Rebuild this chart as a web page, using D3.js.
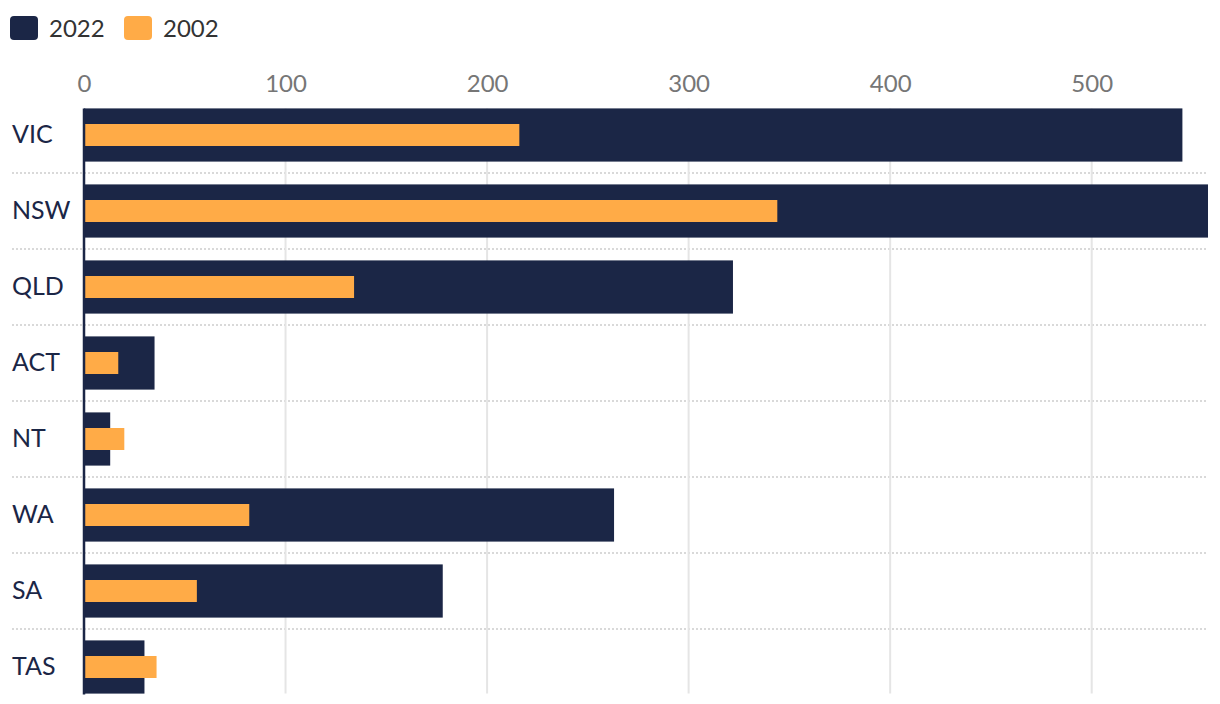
<!DOCTYPE html>
<html>
<head>
<meta charset="utf-8">
<script src="https://cdn.jsdelivr.net/npm/d3@7"></script>
<style>
  html, body { margin: 0; padding: 0; background: #fff; }
  svg { display: block; font-family: "Source Sans Pro", Lato, "Open Sans", sans-serif; }
</style>
</head>
<body>
<svg id="chart" width="1220" height="704"></svg>
<script>
const categories = ["VIC", "NSW", "QLD", "ACT", "NT", "WA", "SA", "TAS"];
const values2022 = [545, 570, 322, 35, 13, 263, 178, 30];
const values2002 = [216, 344, 134, 17, 20, 82, 56, 36];
const seriesNames = ["2022", "2002"];
const tickValues = [0, 100, 200, 300, 400, 500];

(function () {
const colors = { "2022": "#1b2646", "2002": "#ffab47" };

const svg = d3.select("#chart");

const x = d3.scaleLinear().domain([0, 557.7]).range([84, 1208]).clamp(true);
const y = d3.scaleBand().domain(categories).range([97, 705]).paddingInner(0.3).paddingOuter(0.15);
const bw = y.bandwidth();
const innerH = 22;

// dashed row separators
const seps = categories.slice(0, -1);
svg.append("g").selectAll("line").data(seps).join("line")
  .attr("x1", 12).attr("x2", 1208)
  .attr("y1", d => y(d) + bw + (y.step() - bw) / 2)
  .attr("y2", d => y(d) + bw + (y.step() - bw) / 2)
  .attr("stroke", "#d9d9d9").attr("stroke-width", 2)
  .attr("stroke-dasharray", "2,2");

// vertical gridlines
const yTop = y(categories[0]);
const yBottom = y(categories[categories.length - 1]) + bw;
svg.append("g").selectAll("line").data(tickValues.slice(1)).join("line")
  .attr("x1", d => x(d)).attr("x2", d => x(d))
  .attr("y1", yTop).attr("y2", yBottom)
  .attr("stroke", "#e5e5e5").attr("stroke-width", 2);

// tick labels via axis
const axis = d3.axisTop(x).tickValues(tickValues).tickSize(0).tickPadding(0).tickFormat(d3.format("d"));
const axG = svg.append("g").attr("transform", "translate(0,92)").call(axis);
axG.select(".domain").remove();
axG.attr("font-family", null).attr("font-size", null);
axG.selectAll("text")
  .attr("fill", "#767676").attr("font-size", 24)
  .attr("dy", 0);

// bars 2022
svg.append("g").selectAll("rect").data(categories).join("rect")
  .attr("x", x(0))
  .attr("y", d => y(d))
  .attr("width", (d, i) => x(values2022[i]) - x(0))
  .attr("height", bw)
  .attr("fill", colors["2022"]);

// bars 2002
svg.append("g").selectAll("rect").data(categories).join("rect")
  .attr("x", x(0))
  .attr("y", d => y(d) + (bw - innerH) / 2)
  .attr("width", (d, i) => x(values2002[i]) - x(0))
  .attr("height", innerH)
  .attr("fill", colors["2002"]);

// baseline axis line
svg.append("line")
  .attr("x1", x(0)).attr("x2", x(0))
  .attr("y1", yTop).attr("y2", yBottom + 1)
  .attr("stroke", colors["2022"]).attr("stroke-width", 2.5);

// category labels
svg.append("g").selectAll("text").data(categories).join("text")
  .attr("x", 12)
  .attr("y", d => y(d) + bw / 2)
  .attr("dy", "0.3em")
  .attr("fill", "#1b2646")
  .attr("font-size", 25)
  .text(d => d);

// legend
const legend = svg.append("g");
const legX = [10, 124];
seriesNames.forEach((s, i) => {
  legend.append("rect")
    .attr("x", legX[i]).attr("y", 16)
    .attr("width", 28).attr("height", 24).attr("rx", 4)
    .attr("fill", colors[s]);
  legend.append("text")
    .attr("x", legX[i] + 39).attr("y", 36.5)
    .attr("fill", "#333").attr("font-size", 24)
    .text(s);
});
})();
</script>
</body>
</html>
